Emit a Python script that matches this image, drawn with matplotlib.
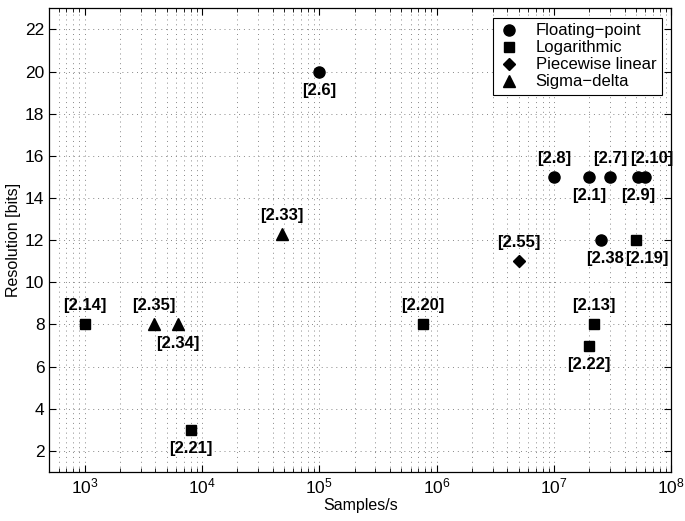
import matplotlib
matplotlib.use('Agg')
import matplotlib.pyplot as plt
import matplotlib.ticker as mtick

plt.rcParams['font.family'] = ['Liberation Sans', 'DejaVu Sans']
plt.rcParams['mathtext.fontset'] = 'custom'
plt.rcParams['mathtext.rm'] = 'Liberation Sans'

# Dados (amostras/s, bits, rótulo, posição do rótulo)
float_x = [1e5, 1e7, 2e7, 3e7, 5.2e7, 6e7, 2.5e7]
float_y = [20, 15, 15, 15, 15, 15, 12]
float_lbl = ['[2.6]', '[2.8]', '[2.1]', '[2.7]', '[2.9]', '[2.10]', '[2.38']
float_pos = ['below', 'above', 'below', 'above', 'below', 'above', 'below']

log_x = [1e3, 8e3, 7.6e5, 2.2e7, 2e7, 5e7]
log_y = [8, 3, 8, 8, 7, 12]
log_lbl = ['[2.14]', '[2.21]', '[2.20]', '[2.13]', '[2.22]', '[2.19]']
log_pos = ['above', 'below', 'above', 'above', 'below', 'below']

pw_x = [5e6]
pw_y = [11]
pw_lbl = ['[2.55]']
pw_pos = ['above']

sd_x = [3.9e3, 6.2e3, 4.8e4]
sd_y = [8, 8, 12.3]
sd_lbl = ['[2.35]', '[2.34]', '[2.33]']
sd_pos = ['above', 'below', 'above']

# deslocamento horizontal extra de alguns rótulos (pontos)
dx_extra = {'[2.19]': 8, '[2.10]': 5, '[2.38': 3}

fig = plt.figure(figsize=(6.85, 5.21), dpi=100)
ax = fig.add_axes([0.072, 0.094, 0.908, 0.89])

series = [
    (float_x, float_y, float_lbl, float_pos, 'o', 8, 'Floating\u2212point'),
    (log_x, log_y, log_lbl, log_pos, 's', 6.5, 'Logarithmic'),
    (pw_x, pw_y, pw_lbl, pw_pos, 'D', 6, 'Piecewise linear'),
    (sd_x, sd_y, sd_lbl, sd_pos, '^', 8, 'Sigma\u2212delta'),
]

for xs, ys, lbls, poss, mk, ms, nome in series:
    ax.plot(xs, ys, linestyle='none', marker=mk, markersize=ms,
            color='black', label=nome)
    for x, y, t, p in zip(xs, ys, lbls, poss):
        dy = 8 if p == 'above' else -8
        va = 'bottom' if p == 'above' else 'top'
        ax.annotate(t, (x, y), xytext=(dx_extra.get(t, 0), dy),
                    textcoords='offset points', ha='center', va=va,
                    fontsize=12, fontweight='bold')

ax.set_xscale('log')
ax.set_xlim(5e2, 1e8)
ax.set_ylim(1, 23)
ax.set_yticks(range(2, 23, 2))
ax.xaxis.set_major_locator(mtick.LogLocator(base=10, numticks=10))
ax.xaxis.set_minor_locator(mtick.LogLocator(base=10, subs=range(2, 10), numticks=20))
ax.xaxis.set_minor_formatter(mtick.NullFormatter())

# Grade estilo MATLAB
grid_style = dict(color='#888888', linestyle=(0, (1, 4)), linewidth=0.7)
ax.grid(True, which='major', axis='both', **grid_style)
ax.grid(True, which='minor', axis='x', **grid_style)

ax.tick_params(which='both', direction='in', top=True, right=True, labelsize=12.5)
ax.tick_params(which='major', length=5)
ax.tick_params(which='minor', length=3)
for s in ax.spines.values():
    s.set_linewidth(0.9)

ax.set_xlabel('Samples/s', fontsize=11.5, labelpad=1)
ax.set_ylabel('Resolution [bits]', fontsize=11.5, labelpad=3)

leg = ax.legend(loc='upper right', fontsize=12, fancybox=False, framealpha=1,
                edgecolor='black', handletextpad=1.0, borderpad=0.35,
                labelspacing=0.12, handlelength=1.2, borderaxespad=0.55)
leg.get_frame().set_linewidth(0.8)

fig.savefig('out.png', dpi=100)
